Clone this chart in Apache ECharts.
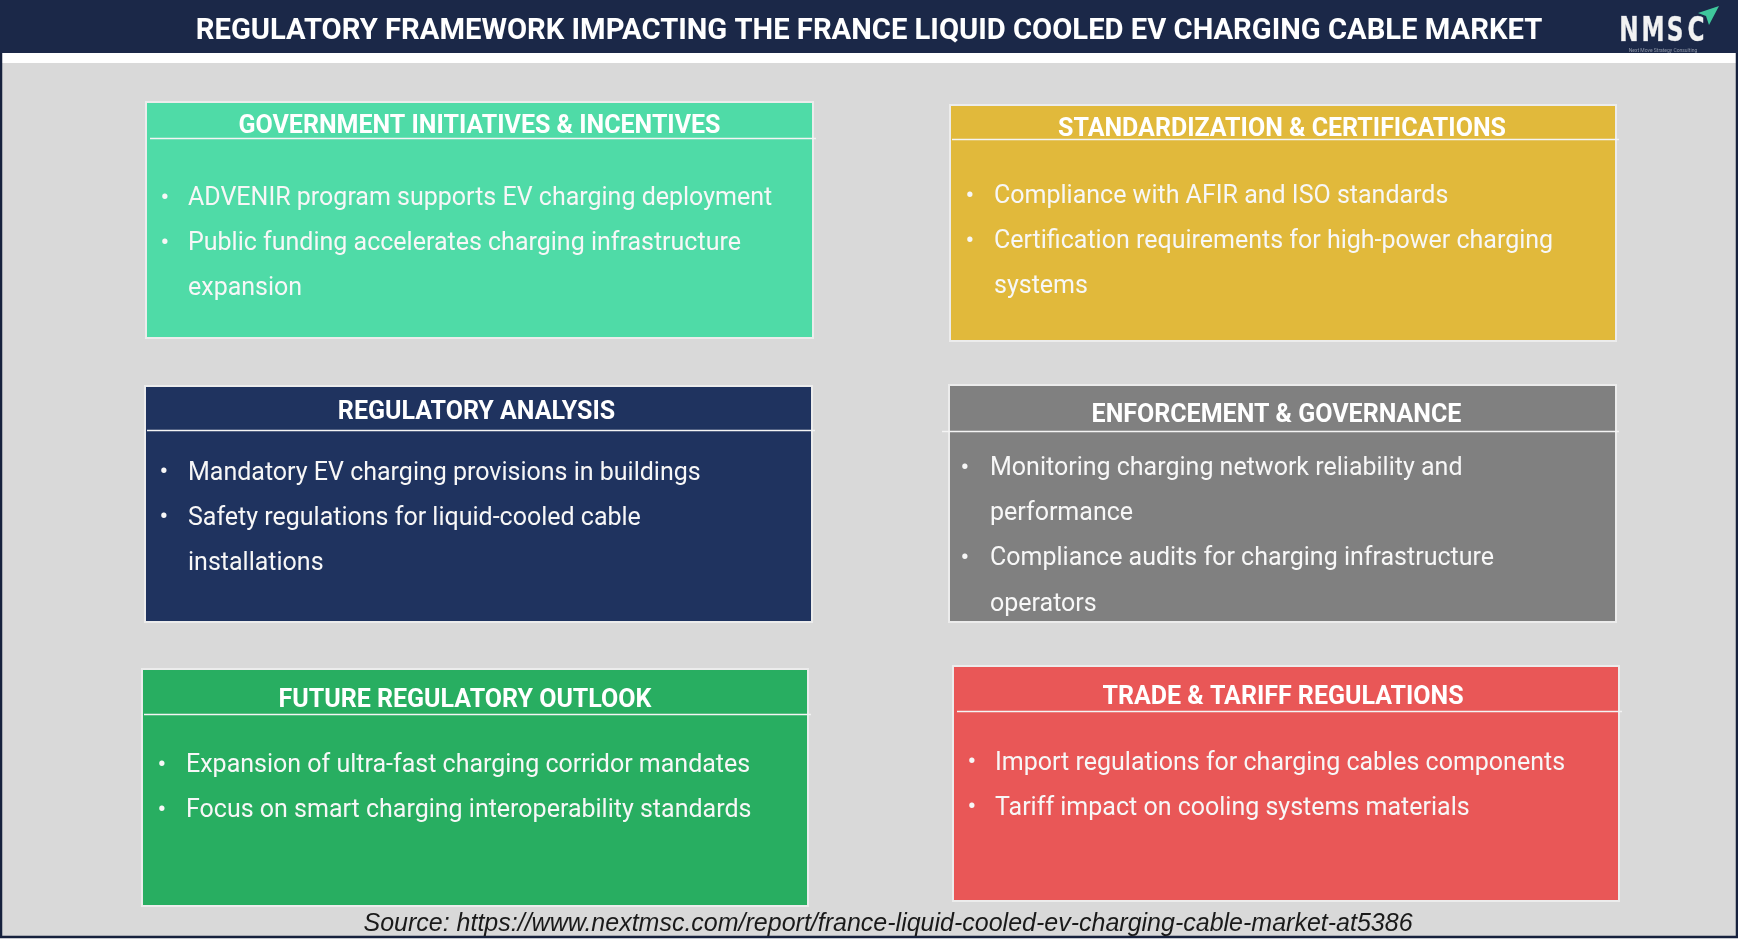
<!DOCTYPE html>
<html>
<head>
<meta charset="utf-8">
<script src="https://cdn.jsdelivr.net/npm/echarts@6/dist/echarts.min.js"></script>
<style>
html,body{margin:0;padding:0;background:#ffffff;}
#chart{width:1738px;height:952px;}
</style>
</head>
<body>
<div id="chart"></div>
<script>
// ---- content (text data) ----
const chartTitle = "REGULATORY FRAMEWORK IMPACTING THE FRANCE LIQUID COOLED EV CHARGING CABLE MARKET";
const sourceText = "Source: https://www.nextmsc.com/report/france-liquid-cooled-ev-charging-cable-market-at5386";
const panelTitles = [
  "GOVERNMENT INITIATIVES & INCENTIVES",
  "STANDARDIZATION & CERTIFICATIONS",
  "REGULATORY ANALYSIS",
  "ENFORCEMENT & GOVERNANCE",
  "FUTURE REGULATORY OUTLOOK",
  "TRADE & TARIFF REGULATIONS"
];
const panelBullets = [
  [["ADVENIR program supports EV charging deployment"], ["Public funding accelerates charging infrastructure", "expansion"]],
  [["Compliance with AFIR and ISO standards"], ["Certification requirements for high-power charging", "systems"]],
  [["Mandatory EV charging provisions in buildings"], ["Safety regulations for liquid-cooled cable", "installations"]],
  [["Monitoring charging network reliability and", "performance"], ["Compliance audits for charging infrastructure", "operators"]],
  [["Expansion of ultra-fast charging corridor mandates"], ["Focus on smart charging interoperability standards"]],
  [["Import regulations for charging cables components"], ["Tariff impact on cooling systems materials"]]
];
const logoLetters = ["N", "M", "S", "C"];
const logoSub = "Next Move Strategy Consulting";

// ---- styles / layout ----
const panelColors = ["#4fdba7", "#e1b93b", "#1f335f", "#808080", "#28ae61", "#e95757"];
const panelBoxes = [ // [x, y, w, h]
  [146, 102, 667, 236],
  [950, 105, 666, 236],
  [145, 386, 667, 236],
  [949, 385, 667, 237],
  [142, 669, 666, 237],
  [953, 666, 666, 235]
];
const headerOffset = [24.5, 24.5, 26.5, 31, 32, 31.5];
const headerDx = [0, -1, -2, -6, -10, -3];
const dividerOffset = [36, 34, 44, 46, 45, 45];
const dividerLeftExtra = [-2, 0, 0, 9, 0, -2];
const firstLineOffset = [97, 92, 87.5, 84, 97, 97.5];
const bulletDx = [19, 20, 19, 16, 20, 19];
const textDx = [42, 44, 43, 41, 44, 42];
const lineGap = 45.1;

const W = 1738, H = 952;
const chart = echarts.init(document.getElementById('chart'), null, {renderer: 'canvas', width: W, height: H});

const g = [];
// background
g.push({type: 'rect', shape: {x: 0, y: 0, width: W, height: H}, style: {fill: '#ffffff'}, silent: true});
g.push({type: 'rect', shape: {x: 1, y: 63, width: W - 2, height: 874}, style: {fill: '#d9d9d9'}, silent: true});
// outer frame
g.push({type: 'rect', shape: {x: 1, y: 1, width: W - 2, height: 936}, style: {fill: null, stroke: '#16213d', lineWidth: 2.5}, silent: true});
// title bar
g.push({type: 'rect', shape: {x: 0, y: 0, width: W, height: 53}, style: {fill: '#1b2848'}, silent: true});
g.push({type: 'text', style: {text: chartTitle, x: 869, y: 31.5, align: 'center', verticalAlign: 'middle',
  font: 'bold 29.2px Roboto', fill: '#ffffff'}, silent: true});

// logo
const logoX = [1629, 1653, 1675, 1696];
logoLetters.forEach((ch, i) => {
  g.push({type: 'text', x: logoX[i], y: 32, scaleX: 0.78, scaleY: 1,
    style: {text: ch, x: 0, y: 0, align: 'center', verticalAlign: 'middle',
    font: 'bold 33px "DejaVu Sans Condensed", "DejaVu Sans"', fill: '#f2f2f2', stroke: '#9aa3b5', lineWidth: 0.6}, silent: true});
});
g.push({type: 'polygon', shape: {points: [[1719, 6], [1698, 13], [1706, 16], [1709, 25]]}, style: {fill: '#3fc79c'}, silent: true});
g.push({type: 'text', style: {text: logoSub, x: 1663, y: 51, align: 'center', verticalAlign: 'middle',
  font: '5px Roboto', fill: '#8f97a8'}, silent: true});

// panels
panelTitles.forEach((t, i) => {
  const [x, y, w, h] = panelBoxes[i];
  g.push({type: 'rect', shape: {x: x, y: y, width: w, height: h},
    style: {fill: panelColors[i], stroke: '#ececec', lineWidth: 2}, silent: true});
  g.push({type: 'text', style: {text: t, x: x + w / 2 + headerDx[i], y: y + headerOffset[i], align: 'center', verticalAlign: 'middle',
    font: 'bold 25px Roboto', fill: '#ffffff'}, silent: true});
  g.push({type: 'line', shape: {x1: x + 2 - dividerLeftExtra[i], y1: y + dividerOffset[i] + 0.5, x2: x + w + 3, y2: y + dividerOffset[i] + 0.5},
    style: {stroke: '#f4f4f4', lineWidth: 1.3}, silent: true});
  let lineIdx = 0;
  panelBullets[i].forEach(lines => {
    lines.forEach((ln, k) => {
      const ly = y + firstLineOffset[i] + lineIdx * lineGap;
      if (k === 0) {
        g.push({type: 'text', style: {text: '•', x: x + bulletDx[i], y: ly, align: 'center', verticalAlign: 'middle',
          font: '26px Roboto', fill: '#f7f7f7'}, silent: true});
      }
      g.push({type: 'text', style: {text: ln, x: x + textDx[i], y: ly, align: 'left', verticalAlign: 'middle',
        font: '25px Roboto', fill: '#f7f7f7'}, silent: true});
      lineIdx++;
    });
  });
});

// source
g.push({type: 'text', style: {text: sourceText, x: 888, y: 924, align: 'center', verticalAlign: 'middle',
  font: 'italic 25px "Liberation Sans", Arial', fill: '#1a1a1a'}, silent: true});

chart.setOption({animation: false, graphic: {elements: g}});
</script>
</body>
</html>
